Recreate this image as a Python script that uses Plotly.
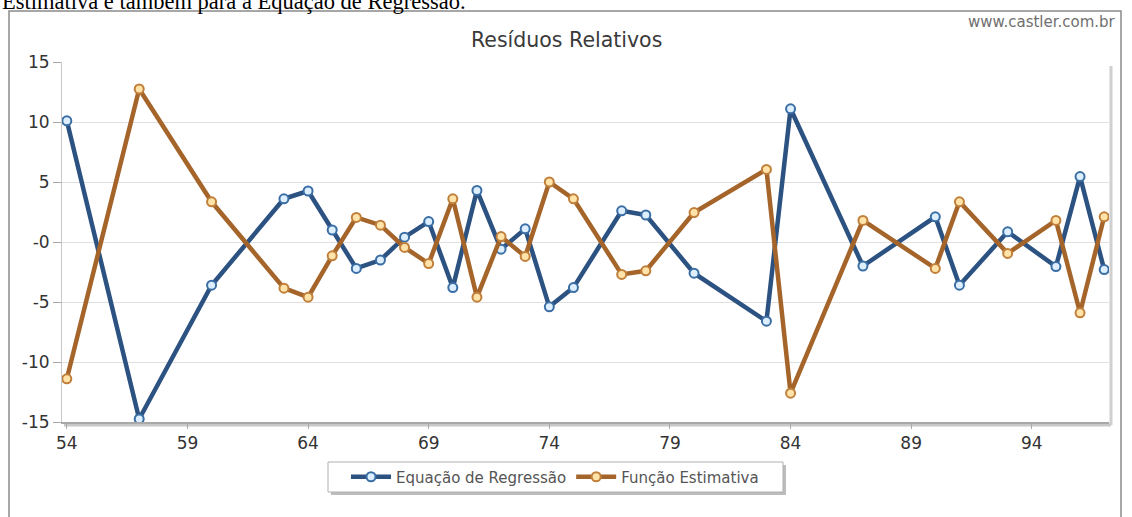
import plotly.graph_objects as go

# Data
x_vals = [54, 57, 60, 63, 64, 65, 66, 67, 68, 69, 70, 71, 72, 73, 74, 75, 77, 78,
          80, 83, 84, 87, 90, 91, 93, 95, 96, 97]
regressao = [10.1, -14.75, -3.6, 3.6, 4.25, 1.0, -2.2, -1.5, 0.4, 1.7, -3.8, 4.3,
             -0.6, 1.1, -5.4, -3.8, 2.6, 2.25, -2.6, -6.6, 11.1, -2.0, 2.1, -3.6,
             0.85, -2.05, 5.45, -2.3]
estimativa = [-11.4, 12.75, 3.35, -3.85, -4.6, -1.15, 2.05, 1.4, -0.45, -1.8, 3.6,
              -4.6, 0.45, -1.2, 5.0, 3.6, -2.7, -2.4, 2.45, 6.05, -12.6, 1.8, -2.2,
              3.35, -0.95, 1.8, -5.9, 2.1]
series_names = ["Equação de Regressão", "Função Estimativa"]
x_ticks = [54, 59, 64, 69, 74, 79, 84, 89, 94]
y_ticks = [15, 10, 5, 0, -5, -10, -15]
y_tick_text = ["15", "10", "5", "-0", "-5", "-10", "-15"]

W, H = 1132, 517
L, R, T, B = 62, 23, 62, 95
pw, ph = W - L - R, H - T - B

def px(xp):
    return (xp - L) / pw

def py(yp):
    return (H - B - yp) / ph

fig = go.Figure()
fig.add_trace(go.Scatter(
    x=x_vals, y=regressao, name=series_names[0], mode="lines+markers",
    line=dict(color="#2C5282", width=4.5),
    marker=dict(size=9, color="#DDEFFF", line=dict(color="#3A6EA5", width=2)),
))
fig.add_trace(go.Scatter(
    x=x_vals, y=estimativa, name=series_names[1], mode="lines+markers",
    line=dict(color="#A5652A", width=4.5),
    marker=dict(size=9, color="#FFE3A8", line=dict(color="#C07F3A", width=2)),
))

shapes = [
    # outer frame
    dict(type="rect", xref="paper", yref="paper",
         x0=px(9), x1=px(1121), y0=py(530), y1=py(11),
         line=dict(color="#8A8A8A", width=1.5), fillcolor="rgba(0,0,0,0)", layer="below"),
    # plot shadow right and bottom
    dict(type="line", xref="paper", yref="paper", x0=px(1111), x1=px(1111),
         y0=py(425), y1=py(66), line=dict(color="#D0D0D0", width=3), layer="below"),
    dict(type="line", xref="paper", yref="paper", x0=px(64), x1=px(1111),
         y0=py(425), y1=py(425), line=dict(color="#C8C8C8", width=3), layer="below"),
    # legend shadow
    dict(type="rect", xref="paper", yref="paper", x0=px(331), x1=px(786),
         y0=py(495), y1=py(465), line=dict(width=0), fillcolor="#BDBDBD", layer="below"),
    dict(type="rect", xref="paper", yref="paper", x0=px(328), x1=px(783),
         y0=py(492), y1=py(462), line=dict(color="#B0B0B0", width=1), fillcolor="white", layer="below"),
]

annotations = [
    dict(text="Resíduos Relativos", xref="paper", yref="paper", x=px(566), y=py(40),
         xanchor="center", yanchor="middle", showarrow=False,
         font=dict(family="DejaVu Sans", size=20.5, color="#3A3A3A")),
    dict(text="www.castler.com.br", xref="paper", yref="paper", x=px(1118), y=py(22),
         xanchor="right", yanchor="middle", showarrow=False,
         font=dict(family="DejaVu Sans", size=15, color="#707070")),
    dict(text="Estimativa e também para a Equação de Regressão.", xref="paper", yref="paper",
         x=px(0), y=py(2), xanchor="left", yanchor="middle", showarrow=False,
         font=dict(family="Liberation Serif", size=22.5, color="#000000")),
]

fig.update_layout(
    width=W, height=H,
    margin=dict(l=L, r=R, t=T, b=B, pad=0),
    paper_bgcolor="white", plot_bgcolor="white",
    showlegend=True,
    legend=dict(orientation="h", x=px(555), y=py(477), xanchor="center", yanchor="middle",
                bgcolor="rgba(0,0,0,0)", font=dict(family="DejaVu Sans", size=15, color="#555555"),
                itemwidth=40),
    shapes=shapes,
    annotations=annotations,
    xaxis=dict(range=[53.8, 97.2], tickvals=x_ticks, showgrid=False, zeroline=False,
               showline=True, linecolor="#A8A8A8", linewidth=1.5,
               ticks="outside", ticklen=5, tickcolor="#A8A8A8",
               tickfont=dict(family="DejaVu Sans", size=17, color="#333333")),
    yaxis=dict(range=[-15, 15], tickvals=y_ticks, ticktext=y_tick_text,
               showgrid=True, gridcolor="#E0E0E0", gridwidth=1, zeroline=False,
               showline=True, linecolor="#C8C8C8", linewidth=1,
               ticks="outside", ticklen=8, tickcolor="#A8A8A8",
               tickfont=dict(family="DejaVu Sans", size=17, color="#333333")),
)

fig.write_html("out.html", config={"displayModeBar": False},
               post_script="document.body.style.margin='0px';document.body.style.overflow='hidden';")
